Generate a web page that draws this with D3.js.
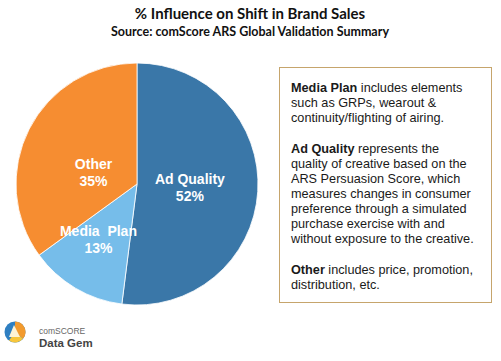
<!DOCTYPE html>
<html>
<head>
<meta charset="utf-8">
<script src="https://cdn.jsdelivr.net/npm/d3@7"></script>
<style>
  body { margin: 0; background: #fff; }
  svg { display: block; }
</style>
</head>
<body>
<div id="chart"></div>
<script>
const width = 501,
  height = 361;

// chart data
const categories = ['Ad Quality', 'Media  Plan', 'Other'];
const shares = [52, 13, 35];
const sliceColors = ['#3a77a8', '#76bdea', '#f68d31'];
// small label nudges so they sit where the original has them
const labelNudge = [[-7, -1], [-8, 3], [10, 15]];

const title = '% Influence on Shift in Brand Sales';
const subtitle = 'Source: comScore ARS Global Validation Summary';

// note box paragraphs, [bold lead, rest of line] per line
const notes = [
  [['Media Plan', ' includes elements'], ['', 'such as GRPs, wearout &'], ['', 'continuity/flighting of airing.']],
  [['Ad Quality', ' represents the'], ['', 'quality of creative based on the'], ['', 'ARS Persuasion Score, which'],
   ['', 'measures changes in consumer'], ['', 'preference through a simulated'], ['', 'purchase exercise with and'],
   ['', 'without exposure to the creative.']],
  [['Other', ' includes price, promotion,'], ['', 'distribution, etc.']]
];

const svg = d3.select('#chart').
append('svg').
attr('width', width).
attr('height', height);

// titles
svg.append('text').
attr('x', 250).
attr('y', 19).
attr('text-anchor', 'middle').
style('font-family', 'Lato, "Open Sans", sans-serif').
style('font-weight', 'bold').
style('font-size', '15px').
attr('fill', '#111').
text(title);

svg.append('text').
attr('x', 250).
attr('y', 36).
attr('text-anchor', 'middle').
style('font-family', 'Lato, "Open Sans", sans-serif').
style('font-weight', 'bold').
style('font-size', '12.5px').
attr('fill', '#111').
text(subtitle);

// pie
const cx = 137,
  cy = 184,
  radius = 121;

const pie = d3.pie().sort(null).value(d => d.value);
const arcs = pie(categories.map((c, i) => ({ name: c, value: shares[i], i: i })));

const arc = d3.arc().innerRadius(0).outerRadius(radius);
const labelArc = d3.arc().innerRadius(60).outerRadius(60);

const g = svg.append('g').
attr('transform', `translate(${cx},${cy})`);

g.selectAll('path').
data(arcs).
enter().
append('path').
attr('d', arc).
attr('fill', d => sliceColors[d.data.i]).
attr('stroke', '#fff').
attr('stroke-width', 0.8);

const labels = g.selectAll('text.slice-label').
data(arcs).
enter().
append('text').
attr('class', 'slice-label').
attr('transform', d => {
  const c = labelArc.centroid(d);
  const n = labelNudge[d.data.i];
  return `translate(${c[0] + n[0]},${c[1] + n[1]})`;
}).
attr('text-anchor', 'middle').
attr('fill', '#fff').
style('font-family', '"Liberation Sans", Arial, sans-serif').
style('font-weight', 'bold').
style('font-size', '14px').
style('white-space', 'pre');

labels.append('tspan').
attr('x', 0).
attr('y', -3).
text(d => d.data.name);

labels.append('tspan').
attr('x', 0).
attr('y', 14).
text(d => d.data.value + '%');

// note box
svg.append('rect').
attr('x', 279.5).
attr('y', 67.5).
attr('width', 212).
attr('height', 235).
attr('fill', '#fff').
attr('stroke', '#c6a56c').
attr('stroke-width', 1);

const lineStep = 15,
  paraGap = 16;

let y = 92;
notes.forEach(para => {
  para.forEach(line => {
    const t = svg.append('text').
    attr('x', 291).
    attr('y', y).
    style('font-family', '"Liberation Sans", Arial, sans-serif').
    style('font-size', '12.7px').
    style('white-space', 'pre').
    attr('fill', '#1a1a1a');
    if (line[0]) t.append('tspan').style('font-weight', 'bold').text(line[0]);
    t.append('tspan').text(line[1]);
    y += lineStep;
  });
  y += paraGap;
});

// comScore Data Gem logo
const logo = svg.append('g').attr('transform', 'translate(15,332)');
logo.append('circle').attr('r', 10.5).attr('fill', '#2f7fc1');
logo.append('path').
attr('d', 'M0,-10.5 A10.5,10.5 0 0 1 8,6.8 L0,0 Z').
attr('fill', '#f29a2e');
logo.append('path').
attr('d', 'M8,6.8 A10.5,10.5 0 0 1 -6,8.6 L0,0 Z').
attr('fill', '#f7c63c');
logo.append('path').
attr('d', 'M-1,-7 L5,5 L-6,5 Z').
attr('fill', '#fdf3d6');

svg.append('text').
attr('x', 39).
attr('y', 334).
style('font-family', '"Liberation Sans", Arial, sans-serif').
style('font-size', '8.5px').
attr('fill', '#666').
text('comSCORE');

svg.append('text').
attr('x', 39).
attr('y', 347).
style('font-family', '"Liberation Sans", Arial, sans-serif').
style('font-weight', 'bold').
style('font-size', '11.5px').
attr('fill', '#444').
text('Data Gem');
</script>
</body>
</html>
